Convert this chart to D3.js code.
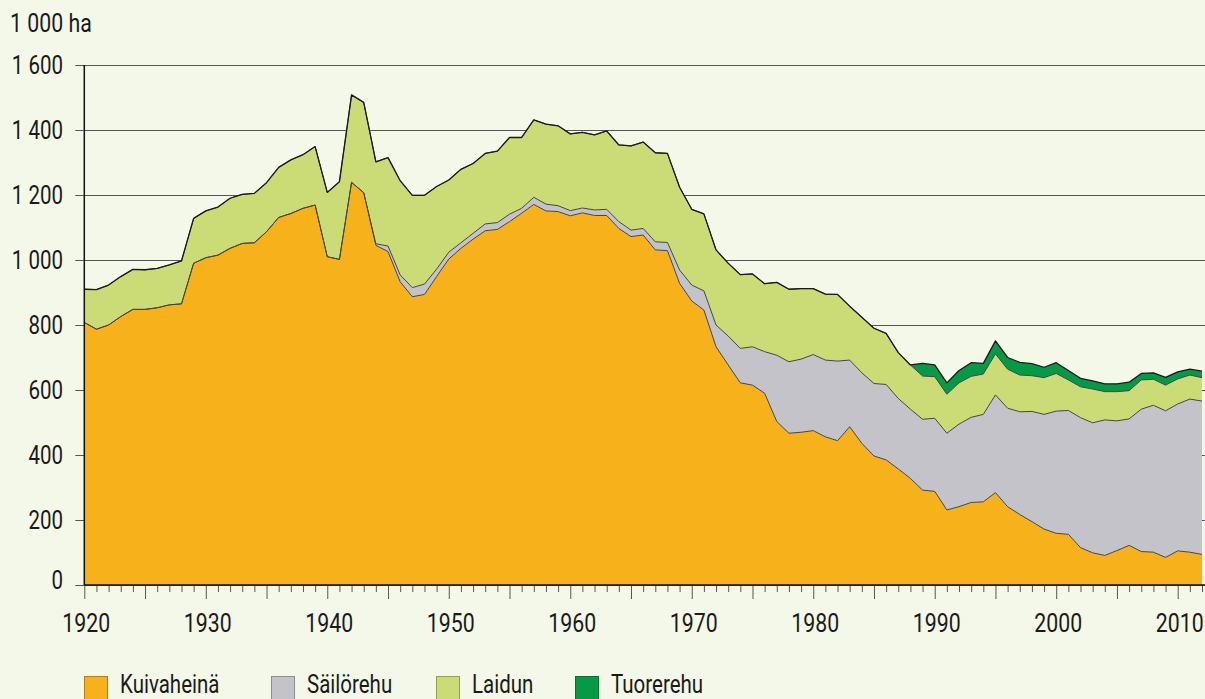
<!DOCTYPE html>
<html>
<head>
<meta charset="utf-8">
<script src="https://cdn.jsdelivr.net/npm/d3@7"></script>
<style>
body { margin: 0; background: #f4f8e9; }
svg { display: block; font-family: Roboto, "Liberation Sans", sans-serif; font-weight: 400; }
</style>
</head>
<body>
<svg id="chart"></svg>
<script>
const CHART_WIDTH = 1205;
const CHART_HEIGHT = 699;
const MARGIN = { left: 84.3, top: 65, bottom: 114, right: 3 };
const SX = 0.82;  // narrow the font to look condensed

const YEARS = [
    1920, 1921, 1922, 1923, 1924, 1925, 1926, 1927, 1928, 1929,
    1930, 1931, 1932, 1933, 1934, 1935, 1936, 1937, 1938, 1939,
    1940, 1941, 1942, 1943, 1944, 1945, 1946, 1947, 1948, 1949,
    1950, 1951, 1952, 1953, 1954, 1955, 1956, 1957, 1958, 1959,
    1960, 1961, 1962, 1963, 1964, 1965, 1966, 1967, 1968, 1969,
    1970, 1971, 1972, 1973, 1974, 1975, 1976, 1977, 1978, 1979,
    1980, 1981, 1982, 1983, 1984, 1985, 1986, 1987, 1988, 1989,
    1990, 1991, 1992, 1993, 1994, 1995, 1996, 1997, 1998, 1999,
    2000, 2001, 2002, 2003, 2004, 2005, 2006, 2007, 2008, 2009,
    2010, 2011, 2012
]

// 1 000 ha
const KUIVAHEINA = [
    808, 787, 800, 826, 848, 848, 853, 862, 865, 990,
    1007, 1015, 1036, 1051, 1053, 1087, 1131, 1143, 1159, 1169,
    1010, 1002, 1239, 1207, 1045, 1026, 933, 887, 894, 949,
    1003, 1036, 1064, 1090, 1094, 1118, 1144, 1171, 1151, 1149,
    1136, 1145, 1137, 1137, 1097, 1072, 1077, 1031, 1029, 928,
    874, 846, 733, 677, 622, 615, 590, 503, 467, 470,
    475, 456, 444, 487, 436, 397, 385, 357, 328, 292,
    288, 231, 241, 254, 256, 284, 241, 217, 195, 172,
    159, 156, 115, 99, 91, 106, 122, 103, 101, 85,
    105, 101, 94
]
const SAILOREHU = [
    0, 0, 0, 0, 0, 0, 0, 0, 0, 0,
    0, 0, 0, 0, 0, 0, 0, 0, 0, 0,
    0, 0, 0, 0, 5, 17, 21, 28, 32, 23,
    21, 17, 18, 21, 21, 23, 15, 22, 21, 18,
    16, 15, 17, 19, 21, 20, 20, 25, 25, 41,
    49, 59, 67, 89, 106, 118, 128, 204, 220, 225,
    234, 236, 245, 205, 217, 223, 232, 217, 213, 218,
    225, 236, 254, 262, 269, 301, 303, 316, 339, 353,
    376, 381, 400, 400, 417, 399, 389, 438, 452, 451,
    452, 471, 472
]
const LAIDUN = [
    102, 122, 123, 123, 123, 122, 121, 123, 132, 138,
    144, 148, 154, 151, 152, 151, 154, 165, 165, 180,
    198, 239, 269, 278, 252, 272, 290, 284, 273, 254,
    222, 226, 215, 217, 220, 236, 218, 238, 246, 246,
    236, 233, 231, 241, 236, 259, 266, 274, 274, 255,
    233, 237, 231, 224, 227, 224, 209, 224, 223, 217,
    203, 203, 205, 166, 171, 170, 157, 141, 136, 133,
    128, 120, 127, 126, 124, 126, 120, 113, 110, 113,
    116, 94, 95, 104, 87, 90, 87, 90, 80, 79,
    77, 74, 72
]
const TUOREREHU = [
    0, 0, 0, 0, 0, 0, 0, 0, 0, 0,
    0, 0, 0, 0, 0, 0, 0, 0, 0, 0,
    0, 0, 0, 0, 0, 0, 0, 0, 0, 0,
    0, 0, 0, 0, 0, 0, 0, 0, 0, 0,
    0, 0, 0, 0, 0, 0, 0, 0, 0, 0,
    0, 0, 0, 0, 0, 0, 0, 0, 0, 0,
    0, 0, 0, 0, 0, 0, 0, 0, 0, 39,
    36, 35, 38, 42, 33, 40, 36, 39, 37, 32,
    33, 29, 26, 25, 24, 24, 26, 20, 20, 24,
    22, 18, 20
]

const SERIES = ["Kuivaheinä", "Säilörehu", "Laidun", "Tuorerehu"]
const COLORS = ["#f7b11b", "#c4c3ca", "#cbdb75", "#079a46"]
const Y_TICKS = [0, 200, 400, 600, 800, 1000, 1200, 1400, 1600]
const X_LABELS = [1920, 1930, 1940, 1950, 1960, 1970, 1980, 1990, 2000, 2010]
const UNIT = "1 000 ha"

const svg = d3.select('#chart')
    .attr("width", CHART_WIDTH)
    .attr("height", CHART_HEIGHT)

svg.append("rect")
    .attr("width", CHART_WIDTH)
    .attr("height", CHART_HEIGHT)
    .attr("fill", "#f4f8e9")

let rows = YEARS.map((year, i) => ({
    year: year,
    "Kuivaheinä": KUIVAHEINA[i],
    "Säilörehu": SAILOREHU[i],
    "Laidun": LAIDUN[i],
    "Tuorerehu": TUOREREHU[i]
}))

const x = d3.scaleLinear()
    .domain([1920, 2012])
    .range([MARGIN.left, CHART_WIDTH - MARGIN.right])

const y = d3.scaleLinear()
    .domain([0, 1600])
    .range([CHART_HEIGHT - MARGIN.bottom, MARGIN.top])

const fmt = v => d3.format(",")(v).replace(/,/g, " ")

// condensed looking text: translate to the anchor then squeeze horizontally
function squeeze(sel, px, py){
    sel.attr("transform", (d, i) => `translate(${px(d, i)},${py(d, i)}) scale(${SX},1)`)
}

// grid lines + y ticks
svg.append("g")
    .attr("transform", `translate(${MARGIN.left},0)`)
    .call(d3.axisLeft(y)
        .tickValues(Y_TICKS)
        .tickSize(-(CHART_WIDTH - MARGIN.left))
        .tickFormat(""))
    .call(g => g.select(".domain").remove())
    .call(g => g.selectAll(".tick line")
        .attr("x1", -9)
        .attr("stroke", "#555")
        .attr("stroke-width", 1.2))

svg.append("g")
    .selectAll("text")
    .data(Y_TICKS)
    .join("text")
    .attr("text-anchor", "end")
    .attr("font-size", 25)
    .attr("fill", "#1a1a1a")
    .call(squeeze, () => 63, d => y(d) + (d === 0 ? 4 : 9))
    .text(fmt)

const stacked = d3.stack().keys(SERIES)(rows)

const area = d3.area()
    .x(d => x(d.data.year))
    .y0(d => y(d[0]))
    .y1(d => y(d[1]))

svg.append("g")
    .selectAll("path")
    .data(stacked)
    .join("path")
    .attr("d", area)
    .attr("fill", (d, i) => COLORS[i])

const topLine = d3.line()
    .x(d => x(d.data.year))
    .y(d => y(d[1]))

svg.append("g")
    .selectAll("path")
    .data(stacked.slice(0, 3))
    .join("path")
    .attr("d", topLine)
    .attr("fill", "none")
    .attr("stroke", "#454545")
    .attr("stroke-width", 1)
    .attr("stroke-linejoin", "round")

svg.append("path")
    .datum(stacked[3])
    .attr("d", topLine)
    .attr("fill", "none")
    .attr("stroke", "#1a1a1a")
    .attr("stroke-width", 1.3)
    .attr("stroke-linejoin", "round")

// x axis: yearly minor ticks, 5-year ticks longer
const baseY = y(0)
svg.append("g")
    .attr("transform", `translate(0,${baseY})`)
    .call(d3.axisBottom(x)
        .tickValues(YEARS)
        .tickSize(7)
        .tickFormat(""))
    .call(g => g.select(".domain").remove())
    .call(g => g.selectAll(".tick line")
        .attr("stroke", "#555")
        .attr("y2", d => d % 5 === 0 ? 14 : 7))

svg.append("g")
    .selectAll("text")
    .data(X_LABELS)
    .join("text")
    .attr("text-anchor", "middle")
    .attr("font-size", 26)
    .attr("fill", "#1a1a1a")
    .call(squeeze, d => x(d) + 2, () => baseY + 47)
    .text(d => d)

svg.append("line")
    .attr("x1", MARGIN.left).attr("x2", CHART_WIDTH)
    .attr("y1", baseY).attr("y2", baseY)
    .attr("stroke", "#111")
    .attr("stroke-width", 1.5)

svg.append("line")
    .attr("x1", MARGIN.left).attr("x2", MARGIN.left)
    .attr("y1", y(1600)).attr("y2", baseY)
    .attr("stroke", "#111")
    .attr("stroke-width", 1.5)

svg.append("text")
    .attr("font-size", 26)
    .attr("fill", "#1a1a1a")
    .attr("transform", `translate(10,32) scale(${SX},1)`)
    .text(UNIT)

// legend along the bottom edge
const LEGEND_X = [84, 271, 436, 575]
const legend = svg.append("g")
    .selectAll("g")
    .data(SERIES)
    .join("g")
    .attr("transform", (d, i) => `translate(${LEGEND_X[i]},676)`)

legend.append("rect")
    .attr("x", 0.5).attr("y", 0.5)
    .attr("width", 23).attr("height", 23)
    .attr("fill", (d, i) => COLORS[i])
    .attr("stroke", (d, i) => d3.color(COLORS[i]).darker(0.9))

legend.append("text")
    .attr("font-size", 25)
    .attr("fill", "#1a1a1a")
    .attr("transform", `translate(36,17) scale(${SX},1)`)
    .text(d => d)
</script>
</body>
</html>
